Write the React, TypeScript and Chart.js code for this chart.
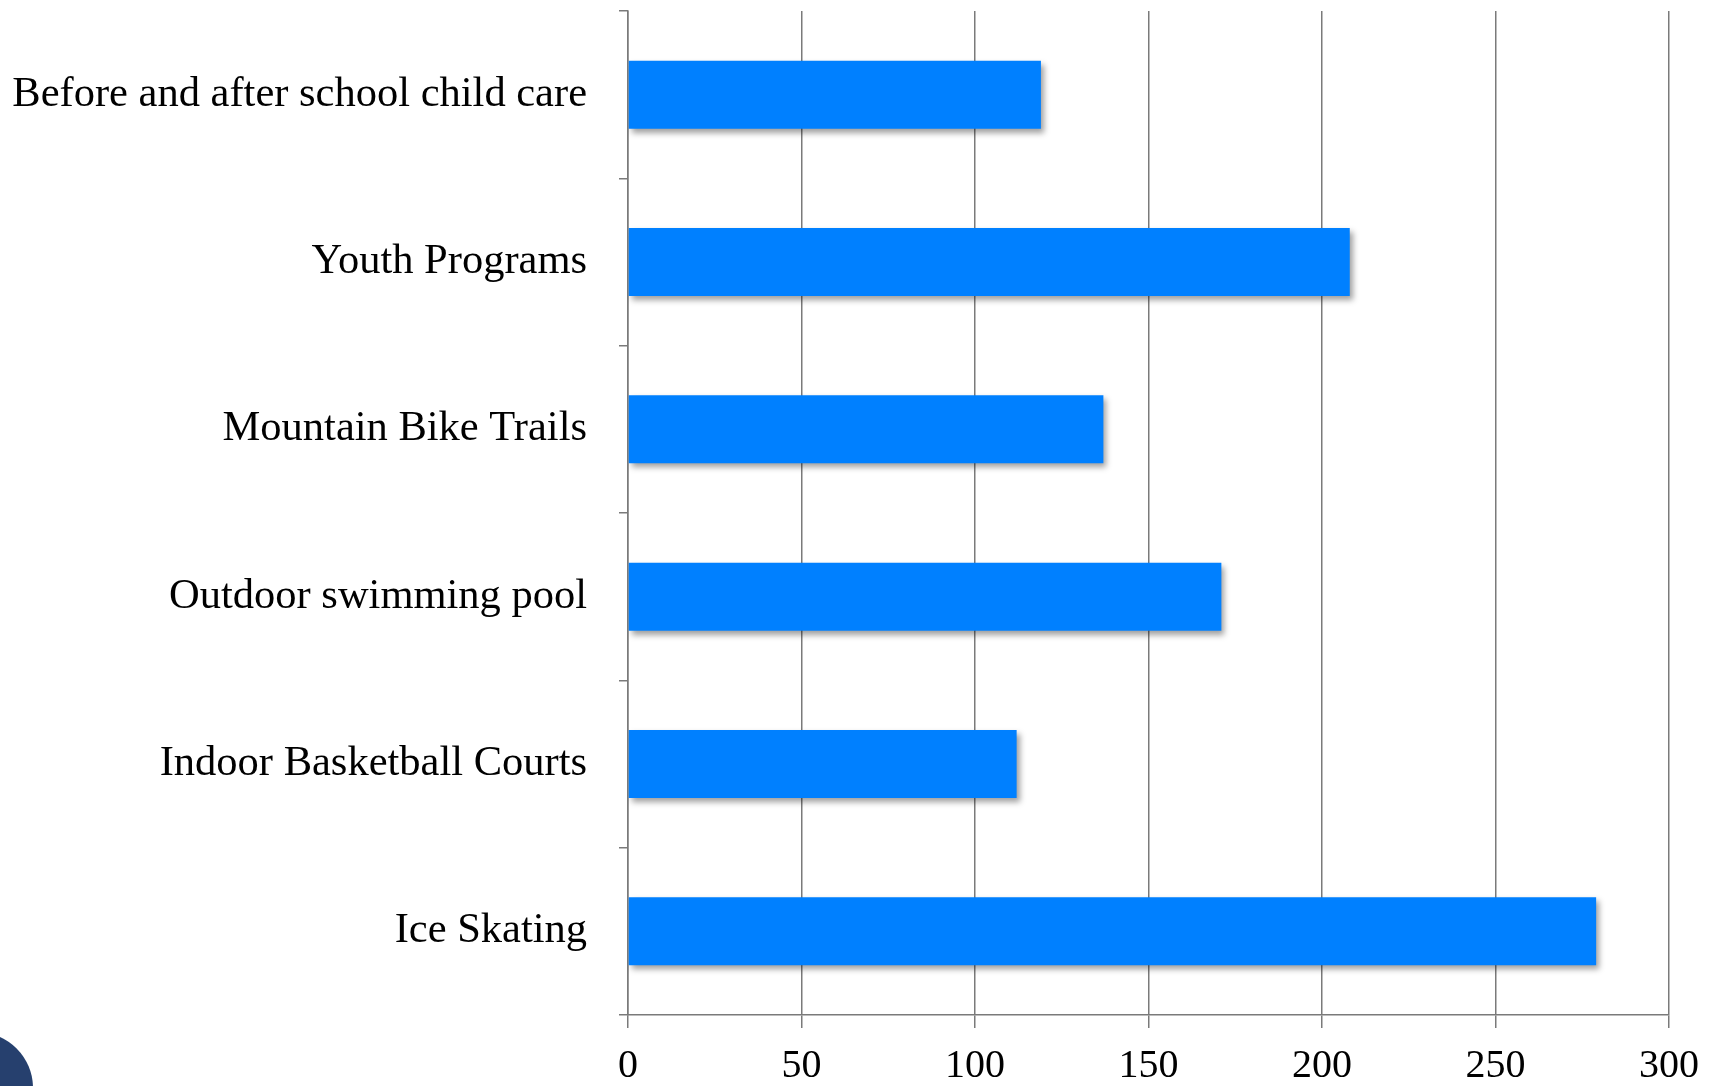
import React, { useEffect, useRef } from "react";
import { Chart, registerables } from "chart.js";

Chart.register(...registerables);

const categories = [
  "Before and after school child care",
  "Youth Programs",
  "Mountain Bike Trails",
  "Outdoor swimming pool",
  "Indoor Basketball Courts",
  "Ice Skating",
];
const values = [119, 208, 137, 171, 112, 279];
const xMin = 0;
const xMax = 300;
const xStep = 50;

const W = 1717;
const H = 1086;

export default function App() {
  const ref = useRef<HTMLCanvasElement | null>(null);

  useEffect(() => {
    if (!ref.current) return;
    const shadowPlugin = {
      id: "barShadow",
      beforeDatasetsDraw(chart: any) {
        const ctx = chart.ctx;
        ctx.save();
        ctx.shadowColor = "rgba(0,0,0,0.38)";
        ctx.shadowBlur = 6;
        ctx.shadowOffsetX = 3;
        ctx.shadowOffsetY = 4;
      },
      afterDatasetsDraw(chart: any) {
        chart.ctx.restore();
      },
    };
    const circlePlugin = {
      id: "cornerCircle",
      afterDraw(chart: any) {
        const ctx = chart.ctx;
        ctx.save();
        ctx.beginPath();
        ctx.arc(-23, 1088, 56, 0, Math.PI * 2);
        ctx.fillStyle = "#26406E";
        ctx.fill();
        ctx.restore();
      },
    };
    const gray = "#7a7a7a";
    const font = { family: "'Liberation Serif', 'Times New Roman', serif", size: 42.5 };
    const chart = new Chart(ref.current, {
      type: "bar",
      data: {
        labels: categories,
        datasets: [
          {
            data: values,
            backgroundColor: "rgb(0,128,255)",
            borderWidth: 0,
            categoryPercentage: 1,
            barPercentage: 0.406,
          },
        ],
      },
      plugins: [shadowPlugin, circlePlugin],
      options: {
        indexAxis: "y",
        responsive: false,
        animation: false,
        layout: { padding: { top: 11, right: 48, left: 0, bottom: 0 } },
        plugins: { legend: { display: false }, tooltip: { enabled: false } },
        scales: {
          x: {
            min: xMin,
            max: xMax,
            ticks: {
              stepSize: xStep,
              color: "#000",
              font: { ...font, size: 40 },
              padding: 14,
            },
            grid: { color: gray, lineWidth: 1.5, tickLength: 13, drawOnChartArea: true },
            border: { display: true, color: gray, width: 1.5 },
            afterFit(scale: any) {
              scale.height = 71;
              scale.paddingLeft = 0;
              scale.paddingRight = 0;
            },
          },
          y: {
            ticks: { color: "#000", font, padding: 32 },
            grid: { color: gray, lineWidth: 1.5, tickLength: 9, drawOnChartArea: false, offset: true },
            border: { display: true, color: gray, width: 1.5 },
            afterFit(scale: any) {
              scale.width = 628;
              scale.paddingTop = 0;
              scale.paddingBottom = 0;
            },
          },
        },
      },
    } as any);
    return () => chart.destroy();
  }, []);

  return (
    <div style={{ position: "fixed", left: 0, top: 0, width: W, height: H, background: "#fff" }}>
      <canvas ref={ref} width={W} height={H} style={{ display: "block", width: W, height: H }} />
    </div>
  );
}
